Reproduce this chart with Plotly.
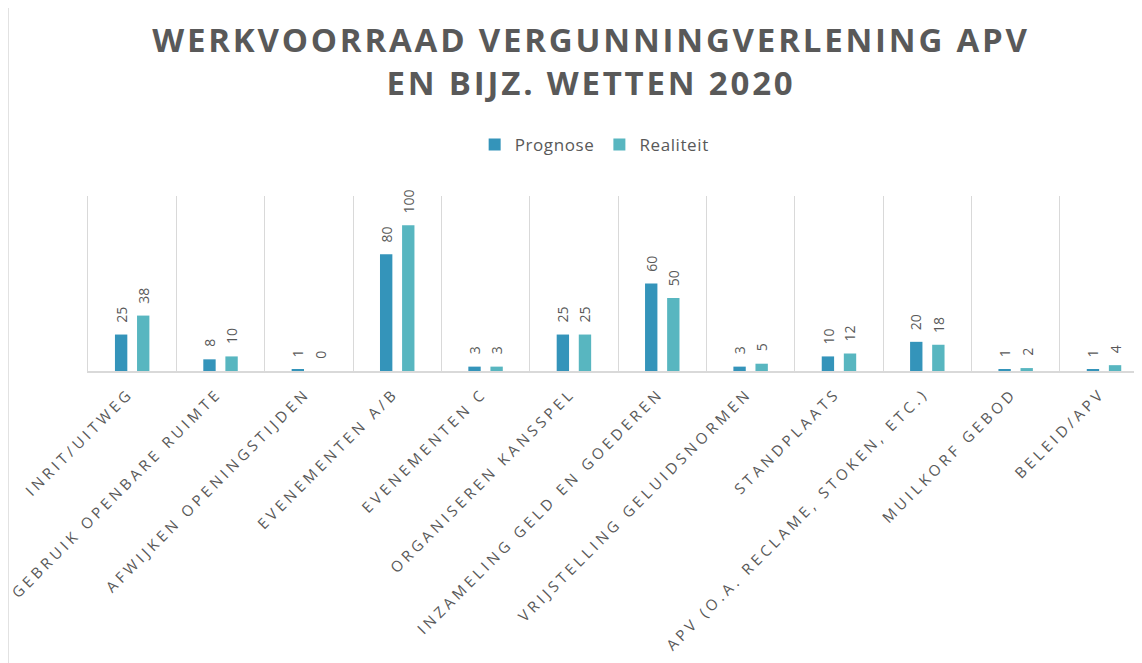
import plotly.graph_objects as go

categories = [
    "INRIT/UITWEG",
    "GEBRUIK OPENBARE RUIMTE",
    "AFWIJKEN OPENINGSTIJDEN",
    "EVENEMENTEN A/B",
    "EVENEMENTEN C",
    "ORGANISEREN KANSSPEL",
    "INZAMELING GELD EN GOEDEREN",
    "VRIJSTELLING GELUIDSNORMEN",
    "STANDPLAATS",
    "APV (O.A. RECLAME, STOKEN, ETC.)",
    "MUILKORF GEBOD",
    "BELEID/APV",
]
prognose = [25, 8, 1, 80, 3, 25, 60, 3, 10, 20, 1, 1]
realiteit = [38, 10, 0, 100, 3, 25, 50, 5, 12, 18, 2, 4]
series_names = ["Prognose", "Realiteit"]
title_lines = ["WERKVOORRAAD VERGUNNINGVERLENING APV", "EN BIJZ. WETTEN 2020"]

colors = ["#3494BA", "#58B6C0"]
gray = "#595959"
grid = "#D9D9D9"
font = "Open Sans"

W, H = 1134, 655           # page body has an 8px margin
ML, MT, MB = 80, 188, 292  # plot area margins
PW = W - ML
PH = H - MT - MB


def spaced(s, px):
    return f"<span style='letter-spacing:{px}px'>{s}</span>"


fig = go.Figure()
for name, vals, col in zip(series_names, [prognose, realiteit], colors):
    fig.add_trace(go.Bar(
        name=spaced(name, 0.6), x=categories, y=vals, marker_color=col,
        marker_line_width=0, hoverinfo="x+y",
    ))

# value labels (rotated), placed above each bar
slot_px = 22
for k, vals in enumerate([prognose, realiteit]):
    shift = (-0.5 + k) * slot_px
    for c, v in zip(categories, vals):
        fig.add_annotation(
            x=c, y=v, xref="x", yref="y", text=str(v), showarrow=False,
            textangle=-90, yanchor="bottom", xanchor="center",
            xshift=shift, yshift=10,
            font=dict(family=font, size=14, color=gray),
        )

# outer chart border (left edge)
fig.add_shape(type="line", xref="paper", yref="paper",
              x0=-ML / PW, x1=-ML / PW, y0=-MB / PH, y1=1 + (MT - 0) / PH,
              line=dict(color=grid, width=1.5))

fig.update_layout(
    width=W, height=H,
    margin=dict(l=ML, r=0, t=MT, b=MB, autoexpand=False),
    paper_bgcolor="white", plot_bgcolor="white",
    title=dict(
        text="<br>".join(spaced(t, 2.8) for t in title_lines),
        x=583 / W, xanchor="center", y=1 - 44 / H, yanchor="top",
        font=dict(family=font, size=33, color=gray, weight="bold"),
    ),
    legend=dict(orientation="h", x=416 / W, xanchor="left",
                y=1 - 137 / H, yanchor="middle", yref="container",
                font=dict(family=font, size=17, color=gray),
                itemwidth=30, traceorder="normal"),
    barmode="group", bargap=0.5, bargroupgap=0.44,
    xaxis=dict(
        range=[-0.5, 11.43], tickangle=-45, tickson="boundaries",
        showgrid=True, gridcolor=grid, gridwidth=1, ticks="",
        showline=True, linecolor=grid, linewidth=1.5,
        tickmode="array", tickvals=categories,
        ticktext=[spaced(c, 3.8) for c in categories],
        tickfont=dict(family=font, size=15, color=gray),
        ticklabelshift=-3, ticklabelstandoff=6,
        automargin=False, fixedrange=True,
    ),
    yaxis=dict(range=[0, 120], visible=True, showticklabels=False,
               showgrid=False, zeroline=False, ticks="",
               showline=True, linecolor=grid, linewidth=1,
               fixedrange=True),
    showlegend=True,
)

fig.write_html("out.html")
